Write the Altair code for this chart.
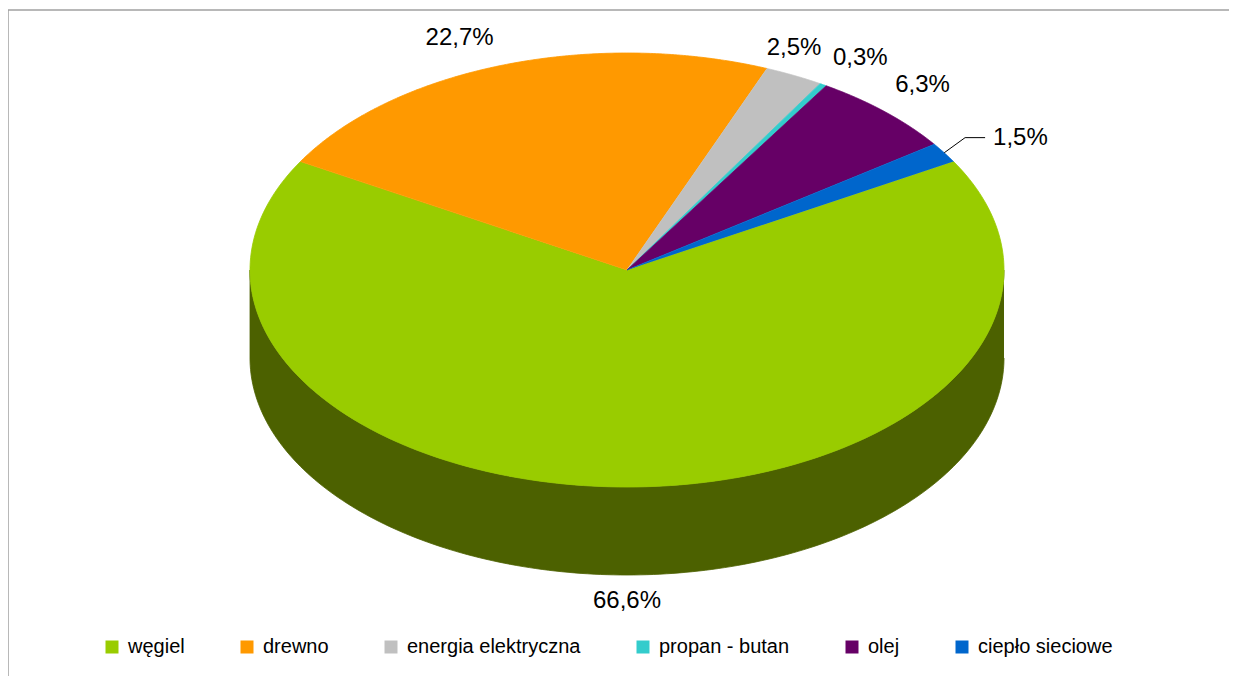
import altair as alt
import pandas as pd

# --- data ---
kategorie = ["węgiel", "drewno", "energia elektryczna", "propan - butan", "olej", "ciepło sieciowe"]
udzialy = [66.6, 22.7, 2.5, 0.3, 6.3, 1.5]
z_odnosnikiem = ["ciepło sieciowe"]

# --- styles ---
kolory_gora = ["#99CC00", "#FF9900", "#C0C0C0", "#33CCCC", "#660066", "#0066CC"]
kolory_bok = ["#4C6100", "#804D00", "#606060", "#1A6666", "#330033", "#003366"]

W, H = 1221, 668
CX, CY = 619, 262          # pie centre inside the view
RX, RY, GL = 377, 217, 88  # ellipse radii and 3D depth
START = "PI/3"             # first slice angle (60 deg clockwise from top)
N = 180

df = pd.DataFrame({"kat": kategorie, "udzial": udzialy, "kol": list(range(len(kategorie)))})

xs = alt.Scale(domain=[-CX, W - CX], nice=False, zero=False)
ys = alt.Scale(domain=[CY - H, CY], nice=False, zero=False)


def base():
    return (
        alt.Chart(df)
        .transform_joinaggregate(suma="sum(udzial)")
        .transform_window(kon="sum(udzial)", sort=[alt.SortField("kol")], frame=[None, 0])
        .transform_calculate(
            a0=f"{START} + 2*PI*(datum.kon - datum.udzial)/datum.suma",
            a1=f"{START} + 2*PI*datum.kon/datum.suma",
        )
    )


enc_xy = dict(
    x=alt.X("px:Q", scale=xs, axis=None),
    y=alt.Y("py:Q", scale=ys, axis=None),
    order=alt.Order("krok:Q"),
    detail="kat:N",
)

# side wall (front half only)
bok = (
    base()
    .transform_calculate(b0="max(datum.a0, PI/2)", b1="min(datum.a1, 3*PI/2)")
    .transform_filter("datum.b1 > datum.b0")
    .transform_calculate(krok=f"sequence(0, {2 * N + 2})")
    .transform_flatten(["krok"])
    .transform_calculate(j=f"datum.krok <= {N} ? datum.krok : {2 * N + 1} - datum.krok")
    .transform_calculate(t=f"datum.b0 + (datum.b1 - datum.b0) * datum.j / {N}")
    .transform_calculate(
        px=f"{RX} * sin(datum.t)",
        py=f"{RY} * cos(datum.t) - (datum.krok > {N} ? {GL} : 0)",
    )
    .mark_line(filled=True, strokeWidth=0.8)
    .encode(
        color=alt.Color("kat:N", scale=alt.Scale(domain=kategorie, range=kolory_bok), legend=None),
        stroke=alt.Stroke("kat:N", scale=alt.Scale(domain=kategorie, range=kolory_bok), legend=None),
        **enc_xy,
    )
)

# top surface wedges
gora = (
    base()
    .transform_calculate(krok=f"sequence(-1, {N + 1})")
    .transform_flatten(["krok"])
    .transform_calculate(t=f"datum.a0 + (datum.a1 - datum.a0) * max(datum.krok, 0) / {N}")
    .transform_calculate(
        px=f"datum.krok < 0 ? 0 : {RX} * sin(datum.t)",
        py=f"datum.krok < 0 ? 0 : {RY} * cos(datum.t)",
    )
    .mark_line(filled=True, strokeWidth=0.8)
    .encode(
        color=alt.Color(
            "kat:N",
            scale=alt.Scale(domain=kategorie, range=kolory_gora),
            legend=alt.Legend(
                orient="none", legendX=94, legendY=629, direction="horizontal", columns=6,
                title=None, symbolType="square", symbolSize=169, symbolStrokeWidth=0,
                labelFontSize=20, labelFont="Liberation Sans", labelColor="black",
                labelLimit=400, columnPadding=52, labelOffset=6,
            ),
        ),
        stroke=alt.Stroke("kat:N", scale=alt.Scale(domain=kategorie, range=kolory_gora), legend=None),
        **enc_xy,
    )
)

etyk = (
    base()
    .transform_calculate(m="(datum.a0 + datum.a1) / 2")
    .transform_calculate(
        tekst="replace(format(datum.udzial, '.1f'), '.', ',') + '%'",
        s="sin(datum.m)",
        c="cos(datum.m)",
    )
    .transform_calculate(
        h="datum.s > 0.45 ? 1 : (datum.s < -0.2 ? -1 : 0)",
    )
    .transform_calculate(
        lx=f"{RX} * datum.s + datum.h * (10 + length(datum.tekst) * 6.8)",
        ly=f"datum.c >= 0 ? {RY} * datum.c + 27 : {RY} * datum.c - {GL} - 26",
        ox=f"{RX + 45} * datum.s",
        oy=f"{RY + 28} * datum.c",
    )
)

etykiety = (
    etyk.transform_filter(~alt.FieldOneOfPredicate(field="kat", oneOf=z_odnosnikiem))
    .mark_text(font="Liberation Sans", fontSize=24, color="black", align="center", baseline="middle")
    .encode(
        x=alt.X("lx:Q", scale=xs, axis=None),
        y=alt.Y("ly:Q", scale=ys, axis=None),
        text="tekst:N",
    )
)

etykiety_odn = (
    etyk.transform_filter(alt.FieldOneOfPredicate(field="kat", oneOf=z_odnosnikiem))
    .mark_text(font="Liberation Sans", fontSize=24, color="black", align="left", baseline="middle", dx=11)
    .encode(
        x=alt.X("ox:Q", scale=xs, axis=None),
        y=alt.Y("oy:Q", scale=ys, axis=None),
        text="tekst:N",
    )
)

odnosnik = (
    etyk.transform_filter(alt.FieldOneOfPredicate(field="kat", oneOf=z_odnosnikiem))
    .transform_calculate(krok="sequence(0, 3)")
    .transform_flatten(["krok"])
    .transform_calculate(
        px=f"datum.krok == 0 ? {RX} * datum.s : (datum.krok == 1 ? datum.ox - 17 : datum.ox + 3)",
        py=f"datum.krok == 0 ? {RY} * datum.c : datum.oy",
    )
    .mark_line(color="black", strokeWidth=1)
    .encode(**enc_xy)
)

ramka_df = pd.DataFrame({"r": [0]})
ramka_gora = alt.Chart(ramka_df).mark_rule(color="#A0A0A0", strokeWidth=1.5).encode(
    x=alt.value(0), x2=alt.value(W), y=alt.value(2)
)
ramka_lewa = alt.Chart(ramka_df).mark_rule(color="#A0A0A0", strokeWidth=1.5).encode(
    x=alt.value(0), y=alt.value(2), y2=alt.value(H)
)

chart = (
    alt.layer(bok, gora, odnosnik, etykiety, etykiety_odn, ramka_gora, ramka_lewa)
    .resolve_scale(color="independent", stroke="independent")
    .properties(width=W, height=H, padding=0, autosize="none")
    .configure_view(stroke=None)
)

chart.save("out.html", embed_options={"renderer": "svg", "actions": False})
